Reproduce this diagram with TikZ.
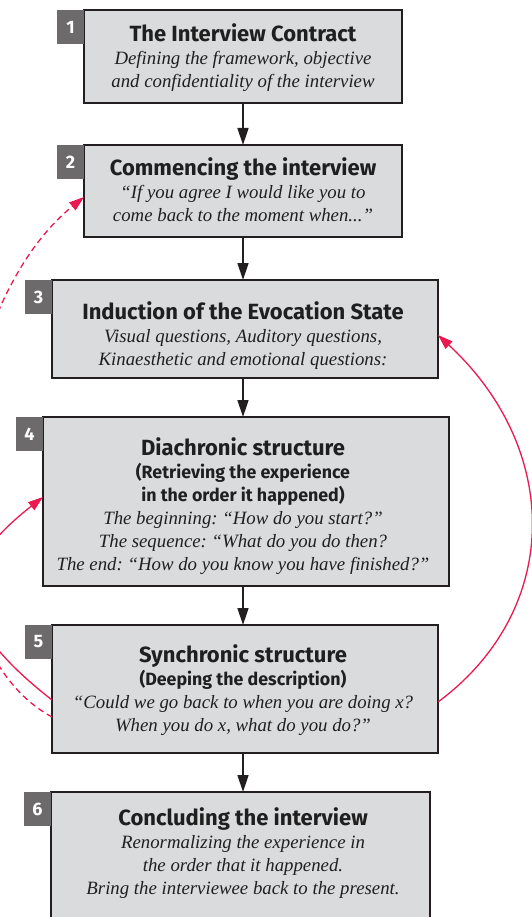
\documentclass[tikz,border=0pt]{standalone}
\usepackage{fontspec}
\setmainfont{Liberation Serif}
\newfontfamily\hsans{Fira Sans}
\usetikzlibrary{arrows.meta,calc}
\definecolor{boxfill}{RGB}{218,219,221}
\definecolor{boxline}{RGB}{35,31,32}
\definecolor{tagfill}{RGB}{108,106,107}
\definecolor{loopred}{RGB}{234,25,80}
\newcommand{\ttlA}[1]{{\hsans\bfseries\upshape\fontsize{22}{23}\selectfont #1}}
\newcommand{\ttlB}[1]{{\hsans\bfseries\upshape\fontsize{17.8}{23}\selectfont #1}}
\frenchspacing
\begin{document}
\begin{tikzpicture}[x=1pt,y=-1pt,
  box/.style={draw=boxline,line width=1.4pt,fill=boxfill,inner sep=0pt,outer sep=0pt,anchor=north west},
  tag/.style={fill=tagfill,minimum width=27pt,minimum height=34pt,anchor=north east,inner sep=0pt,outer sep=0pt,text=white,font=\hsans\bfseries\fontsize{18}{18}\selectfont},
  txt/.style={anchor=north,align=center,inner sep=0pt,font=\fontsize{18.8}{23}\selectfont\itshape\frenchspacing,text=black!88},
  flow/.style={draw=boxline,line width=1.4pt,-{Triangle[length=17pt,width=11pt]}},
  loop/.style={draw=loopred,line width=1.3pt,-{Triangle[length=15pt,width=10pt]}},
  loopdash/.style={loop,dash pattern=on 6pt off 4pt}]
\useasboundingbox (0,0) rectangle (532,917);
\clip (0,0) rectangle (532,917);

% boxes
\node[box,minimum width=318pt,minimum height=93pt] (b1) at (84,10) {};
\node[box,minimum width=318pt,minimum height=92pt] (b2) at (84,145) {};
\node[box,minimum width=386pt,minimum height=98pt] (b3) at (52,280) {};
\node[box,minimum width=406pt,minimum height=169pt] (b4) at (43,417) {};
\node[box,minimum width=386pt,minimum height=128pt] (b5) at (52,625) {};
\node[box,minimum width=379pt,minimum height=160pt] (b6) at (51,792) {};

% number tags
\node[tag] (n1) at (b1.north west) {1};
\node[tag] (n2) at (b2.north west) {2};
\node[tag] (n3) at (b3.north west) {3};
\node[tag] (n4) at (b4.north west) {4};
\node[tag] (n5) at (b5.north west) {5};
\node[tag] (n6) at (b6.north west) {6};

% texts
\node[txt] (t1) at (243,23.5) {\ttlA{The Interview Contract}\\Defining the framework, objective\\and confidentiality of the interview};
\node[txt] (t2) at (243,157.5) {\ttlA{Commencing the interview}\\“If you agree I would like you to\\come back to the moment when...”};
\node[txt] (t3) at (243,301.5) {\ttlA{Induction of the Evocation State}\\Visual questions, Auditory questions,\\Kinaesthetic and emotional questions:};
\node[txt] (t4) at (243,437.5) {\ttlA{Diachronic structure}\\\ttlB{(Retrieving the experience}\\\ttlB{in the order it happened)}\\The beginning: “How do you start?”\\The sequence: “What do you do then?\\The end: “How do you know you have finished?”};
\node[txt] (t5) at (243,644.5) {\ttlA{Synchronic structure}\\\ttlB{(Deeping the description)}\\“Could we go back to when you are doing x?\\When you do x, what do you do?”};
\node[txt] (t6) at (243,807) {\ttlA{Concluding the interview}\\Renormalizing the experience in\\the order that it happened.\\Bring the interviewee back to the present.};

% flow arrows
\draw[flow] (b1.south) -- (b2.north);
\draw[flow] (b2.south) -- (b3.north -| b2.south);
\draw[flow] (b3.south -| b2.south) -- (b4.north -| b2.south);
\draw[flow] (b4.south -| b2.south) -- (b5.north -| b2.south);
\draw[flow] (b5.south -| b2.south) -- (b6.north -| b2.south);

% loops
\draw[loop] ([yshift=-13pt]b5.east) .. controls (562,610) and (562,450) .. ([yshift=-6pt]b3.east);
\draw[loop] ([yshift=-11pt]b5.west) .. controls (-50,620) and (-50,570) .. ([yshift=4.5pt]b4.west);
\draw[loopdash] ([yshift=-28pt]b5.west) .. controls (-90,640) and (-56,310) .. ([yshift=-6pt]b2.west);
\end{tikzpicture}
\end{document}
